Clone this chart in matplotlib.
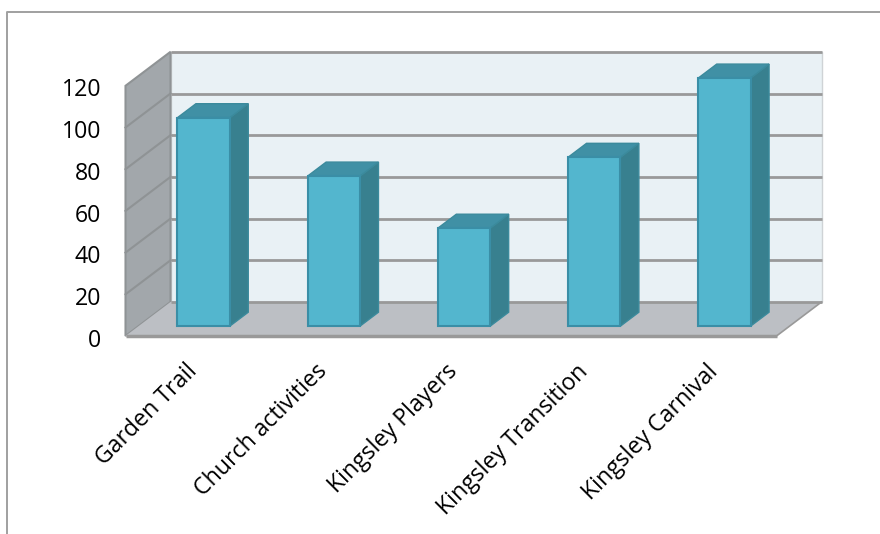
#!/usr/bin/env python3
import matplotlib
matplotlib.use("Agg")
import matplotlib.pyplot as plt
from matplotlib.lines import Line2D
from matplotlib.patches import Polygon
from matplotlib.transforms import ScaledTranslation

categories = ["Garden Trail", "Church activities", "Kingsley Players",
              "Kingsley Transition", "Kingsley Carnival"]
values = [100, 72, 47, 81, 119]
y_ticks = [0, 20, 40, 60, 80, 100, 120]

# oblique depth of the fake 3D box, in data units (x, y)
DX = 45 / 130.2
DY = 34 / 2.085
BAR_WIDTH = 0.402
BAR_D0 = 0.29
BAR_D1 = 0.70

C_WALL = "#a2a7ab"
C_BACK = "#e9f1f5"
C_FLOOR = "#bcbfc4"
C_GRID = "#999999"
C_FRONT = "#53b6ce"
C_SIDE = "#38808f"
C_TOP = "#4090a5"
C_EDGE = "#3a8ea6"

plt.rcParams["font.family"] = ["Open Sans", "DejaVu Sans"]

W, H = 880, 534
fig = plt.figure(figsize=(W / 100, H / 100), dpi=100)
ax = fig.add_axes([125.5 / W, (H - 336) / H, 651 / W, 250.2 / H])
ax.set_xlim(0, len(categories))
ax.set_ylim(0, 120)
ax.patch.set_visible(False)
for s in ax.spines.values():
    s.set_visible(False)


def pt(x, y, d=0.0):
    return (x + d * DX, y + d * DY)


def poly(points, face, edge=None, lw=0.0, z=1):
    ax.add_patch(Polygon(points, closed=True, facecolor=face,
                         edgecolor=edge if edge else face, linewidth=lw,
                         clip_on=False, zorder=z, joinstyle="miter"))


n = len(categories)
# back wall, left wall, floor
poly([pt(0, 0, 1), pt(n, 0, 1), pt(n, 120, 1), pt(0, 120, 1)], C_BACK, "#cfd3d6", 1, 1)
poly([pt(0, 0), pt(0, 0, 1), pt(0, 120, 1), pt(0, 120)], C_WALL, "#8f9395", 1.5, 2)
poly([pt(0, 0), pt(n, 0), pt(n, 0, 1), pt(0, 0, 1)], C_FLOOR, None, 0, 2)

for t in y_ticks:
    x0, y0 = pt(0, t, 1)
    x1, y1 = pt(n, t, 1)
    ax.plot([x0, x1], [y0, y1], color=C_GRID, lw=2, clip_on=False, zorder=3,
            solid_capstyle="butt")
    if 0 < t < 120:
        xa, ya = pt(0, t)
        ax.plot([xa, x0], [ya, y0], color="#8f9395", lw=1.5, clip_on=False, zorder=3)
xa, ya = pt(n, 0)
xb, yb = pt(n, 0, 1)
ax.plot([xa, xb], [ya, yb], color=C_GRID, lw=1.2, clip_on=False, zorder=3)
ax.plot([0, n], [0, 0], color=C_GRID, lw=2.5, clip_on=False, zorder=3,
        solid_capstyle="butt")

# bars
for i, v in enumerate(values):
    xl = i + 0.5 - BAR_WIDTH / 2
    xr = i + 0.5 + BAR_WIDTH / 2
    poly([pt(xr, 0, BAR_D0), pt(xr, 0, BAR_D1), pt(xr, v, BAR_D1), pt(xr, v, BAR_D0)],
         C_SIDE, "#3b8a9c", 1, 5)
    poly([pt(xl, v, BAR_D0), pt(xr, v, BAR_D0), pt(xr, v, BAR_D1), pt(xl, v, BAR_D1)],
         C_TOP, "#3b8a9c", 1, 5)
    poly([pt(xl, 0, BAR_D0), pt(xr, 0, BAR_D0), pt(xr, v, BAR_D0), pt(xl, v, BAR_D0)],
         C_FRONT, C_EDGE, 1.5, 6)

ax.set_yticks(y_ticks)
ax.set_xticks([i + 0.5 for i in range(n)])
ax.set_xticklabels(categories)
ax.tick_params(axis="both", length=0, labelsize=16.7, labelcolor="black")
ax.tick_params(axis="y", pad=17.5)
ax.tick_params(axis="x", pad=17)
off = ScaledTranslation(-4 / 72, 0, fig.dpi_scale_trans)
for lab in ax.get_xticklabels():
    lab.set_rotation(45)
    lab.set_ha("right")
    lab.set_va("top")
    lab.set_rotation_mode("anchor")
    lab.set_transform(lab.get_transform() + off)
off_y = ScaledTranslation(0, -1.2 / 72, fig.dpi_scale_trans)
for lab in ax.get_yticklabels():
    lab.set_transform(lab.get_transform() + off_y)

# thin chart frame, cut by the image edge
fig.add_artist(Line2D([6.5 / W, 6.5 / W, 1], [0, 1 - 12 / H, 1 - 12 / H],
                      color="#a0a0a0", lw=1.4, transform=fig.transFigure))

fig.savefig("out.png", dpi=100)
